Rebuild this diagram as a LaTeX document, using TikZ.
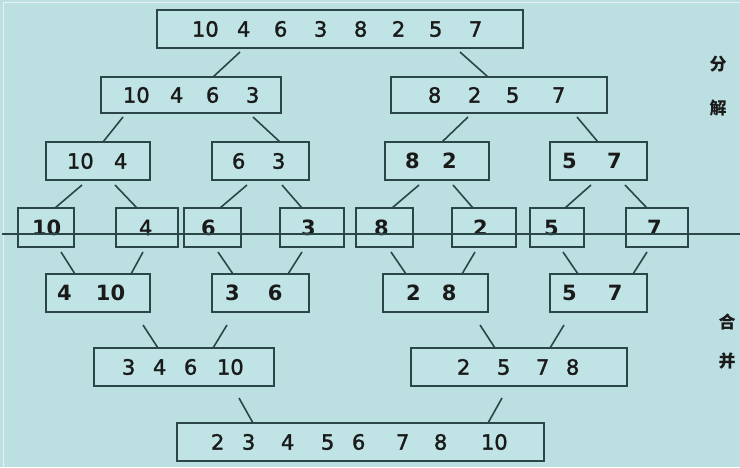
\documentclass[tikz,border=0pt]{standalone}
\usepackage{fontspec}
\setmainfont{DejaVu Sans}
\newfontfamily\dvmed{DejaVu Sans}[FakeBold=1.6]
\newfontfamily\cjk{Noto Sans CJK SC}
\definecolor{bg}{HTML}{BCE0E2}
\definecolor{bfill}{HTML}{C0E3E5}
\definecolor{edge}{HTML}{2B4646}
\definecolor{ink}{HTML}{1A1A1A}
\newcommand\dg[2]{\rlap{\hspace*{#1pt}#2}}
\newcommand\bx[6][]{\node[box,#1,minimum height={(#6-#4)*1pt}] (#2) at (#3,#4) {\makebox[\dimexpr #5pt-#3pt\relax][l]{\bxtext}};}
\newcommand\cn[5]{\draw[conn] ([shift={(#2,#3)}]#1.south west) -- ([xshift=#5pt]#4.north west);}
\begin{document}
\begin{tikzpicture}[x=1pt,y=-1pt,
  box/.style={draw=edge, line width=2pt, fill=bfill, anchor=north west, inner sep=0pt, outer sep=0pt, text=ink, font=\dvmed\fontsize{21}{25}\selectfont},
  heavy/.style={font=\rmfamily\fontsize{21}{25}\selectfont\bfseries},
  conn/.style={draw=edge, line width=1.6pt},
  hline/.style={draw=edge, line width=2pt},
  side/.style={font=\cjk\bfseries\fontsize{17}{17}\selectfont, text=ink, inner sep=0pt}]
\useasboundingbox (0,0) rectangle (740,467);
\fill[bg] (0,0) rectangle (740,467);
\draw[white, opacity=0.6, line width=1pt] (3,467) -- (3,2) -- (740,2);
% level 1
\def\bxtext{\dg{35}{10}\dg{80}{4}\dg{117}{6}\dg{157}{3}\dg{197}{8}\dg{235}{2}\dg{272}{5}\dg{312}{7}}
\bx{t}{157}{10}{523}{48}
% level 2
\def\bxtext{\dg{22}{10}\dg{69}{4}\dg{105}{6}\dg{145}{3}}
\bx{a}{101}{77}{281}{113}
\def\bxtext{\dg{37}{8}\dg{77}{2}\dg{115}{5}\dg{161}{7}}
\bx{b}{391}{77}{607}{113}
% level 3
\def\bxtext{\dg{21}{10}\dg{68}{4}}
\bx{aa}{46}{142}{150}{180}
\def\bxtext{\dg{20}{6}\dg{60}{3}}
\bx{ab}{212}{142}{309}{180}
\def\bxtext{\dg{20}{8}\dg{57}{2}}
\bx[heavy]{ba}{385}{142}{489}{180}
\def\bxtext{\dg{12}{5}\dg{57}{7}}
\bx[heavy]{bb}{550}{142}{647}{180}
% leaves
\def\bxtext{\dg{14}{10}}
\bx[heavy]{l1}{18}{208}{74}{247}
\def\bxtext{\dg{23}{4}}
\bx{l2}{116}{208}{178}{247}
\def\bxtext{\dg{17}{6}}
\bx[heavy]{l3}{184}{208}{241}{247}
\def\bxtext{\dg{21}{3}}
\bx[heavy]{l4}{280}{208}{344}{247}
\def\bxtext{\dg{18}{8}}
\bx[heavy]{l5}{356}{208}{413}{247}
\def\bxtext{\dg{21}{2}}
\bx[heavy]{l6}{452}{208}{516}{247}
\def\bxtext{\dg{14}{5}}
\bx[heavy]{l7}{530}{208}{584}{247}
\def\bxtext{\dg{21}{7}}
\bx[heavy]{l8}{626}{208}{688}{247}
% merge level 1
\def\bxtext{\dg{11}{4}\dg{50}{10}}
\bx[heavy]{m1}{46}{274}{150}{312}
\def\bxtext{\dg{13}{3}\dg{56}{6}}
\bx[heavy]{m2}{212}{274}{309}{312}
\def\bxtext{\dg{23}{2}\dg{59}{8}}
\bx[heavy]{m3}{383}{274}{488}{312}
\def\bxtext{\dg{12}{5}\dg{58}{7}}
\bx[heavy]{m4}{550}{274}{647}{312}
% merge level 2
\def\bxtext{\dg{28}{3}\dg{59}{4}\dg{90}{6}\dg{123}{10}}
\bx{n1}{94}{348}{274}{386}
\def\bxtext{\dg{46}{2}\dg{86}{5}\dg{125}{7}\dg{155}{8}}
\bx{n2}{411}{348}{627}{386}
% final
\def\bxtext{\dg{34}{2}\dg{65}{3}\dg{104}{4}\dg{144}{5}\dg{175}{6}\dg{219}{7}\dg{257}{8}\dg{304}{10}}
\bx{f}{177}{423}{544}{461}
% connectors: split
\cn{t}{83}{4}{a}{112}
\cn{t}{303}{4}{b}{97}
\cn{a}{22}{4}{aa}{57}
\cn{a}{152}{4}{ab}{68}
\cn{b}{77}{4}{ba}{57}
\cn{b}{186}{4}{bb}{48}
\cn{aa}{36}{5}{l1}{37}
\cn{aa}{69}{5}{l2}{21}
\cn{ab}{35}{5}{l3}{36}
\cn{ab}{70}{5}{l4}{22}
\cn{ba}{34}{5}{l5}{36}
\cn{ba}{68}{5}{l6}{21}
\cn{bb}{41}{5}{l7}{35}
\cn{bb}{75}{5}{l8}{21}
% connectors: merge
\cn{l1}{43}{5}{m1}{29}
\cn{l2}{27}{5}{m1}{85}
\cn{l3}{34}{5}{m2}{21}
\cn{l4}{22}{5}{m2}{76}
\cn{l5}{35}{5}{m3}{23}
\cn{l6}{23}{5}{m3}{79}
\cn{l7}{33}{5}{m4}{28}
\cn{l8}{21}{5}{m4}{83}
\cn{m1}{97}{13}{n1}{64}
\cn{m2}{15}{13}{n1}{119}
\cn{m3}{97}{13}{n2}{84}
\cn{m4}{14}{13}{n2}{139}
\cn{n1}{145}{12}{f}{76}
\cn{n2}{91}{12}{f}{311}
% dividing line
\coordinate (hl) at (2,234);
\coordinate (hr) at (740,234);
\draw[hline] (hl) -- (hr);
% side labels
\node[side] (s1) at (718,64) {分};
\node[side] (s2) at (718,108) {解};
\node[side] (s3) at (727,322) {合};
\node[side] (s4) at (727,361) {并};
\end{tikzpicture}
\end{document}
